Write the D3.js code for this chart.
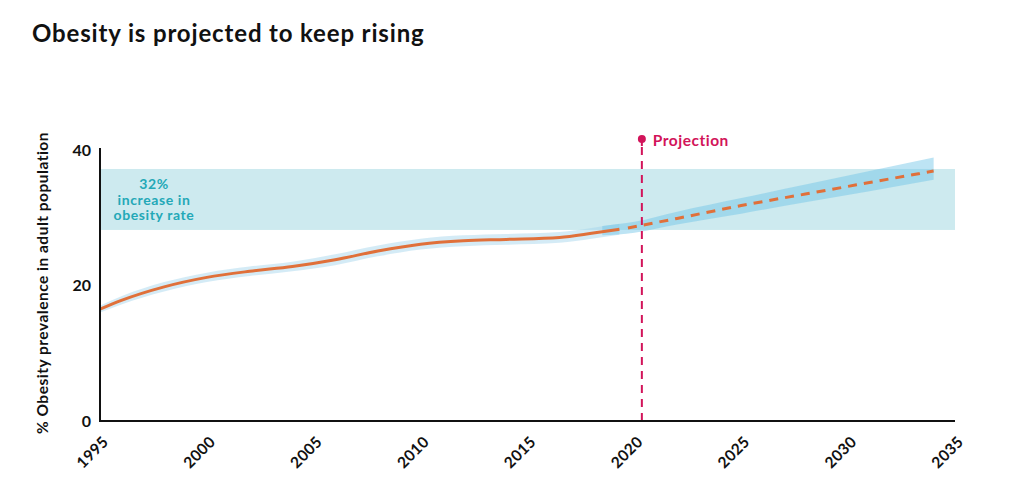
<!DOCTYPE html>
<html><head><meta charset="utf-8">
<script src="https://cdn.jsdelivr.net/npm/d3@7"></script>
<style>
html,body{margin:0;padding:0;background:#fff;}
svg{display:block;font-family:Lato,"Noto Sans",sans-serif;}
</style></head>
<body>
<svg id="chart" width="1024" height="495"></svg>
<script>
// ---- data ----
const histYears  = [1995, 1996, 1998, 2000, 2002, 2004, 2006, 2008, 2010, 2012, 2014, 2016.5, 2018, 2019.3];
const histValues = [16.5, 17.8, 19.8, 21.2, 22.1, 22.8, 23.8, 25.1, 26.1, 26.6, 26.8, 27.1, 27.7, 28.3];
const histLow    = [16.0, 17.2, 19.1, 20.5, 21.4, 22.1, 23.0, 24.3, 25.3, 25.8, 26.0, 26.3, 26.9, 27.5];
const histHigh   = [17.0, 18.4, 20.5, 21.9, 22.8, 23.5, 24.6, 25.9, 26.9, 27.4, 27.6, 27.9, 28.5, 29.1];
const projYears  = [2019.7, 2022, 2025, 2028, 2031, 2034];
const projValues = [28.5, 29.9, 31.8, 33.5, 35.2, 36.9];
const projBandYears = [2018.5, 2020, 2022, 2025, 2028, 2031, 2034];
const projLow    = [27.4, 27.8, 29.0, 30.6, 32.3, 33.9, 35.6];
const projHigh   = [28.8, 29.4, 30.9, 32.9, 34.9, 36.9, 38.9];
const increaseBand = [28.2, 37.2];
const projectionYear = 2020.35;
const xTicks = [1995, 2000, 2005, 2010, 2015, 2020, 2025, 2030, 2035];
const yTicks = [0, 20, 40];
const annotationLines = ["32%", "increase in", "obesity rate"];

// ---- chart ----
const svg = d3.select("#chart");
const x = d3.scaleLinear().domain([1995, 2035]).range([100, 955]);
const y = d3.scaleLinear().domain([0, 40]).range([421, 150]);

svg.append("text").attr("x", 32).attr("y", 42)
  .attr("font-size", 24).attr("font-weight", 700).attr("fill", "#111")
  .attr("letter-spacing", 0.85)
  .text("Obesity is projected to keep rising");

// increase band
svg.append("rect")
  .attr("x", x(1995)).attr("width", x(2035) - x(1995))
  .attr("y", y(increaseBand[1])).attr("height", y(increaseBand[0]) - y(increaseBand[1]))
  .attr("fill", "#cdeaef");

const tA = svg.append("text").attr("text-anchor", "middle")
  .attr("font-size", 14).attr("font-weight", 700).attr("fill", "#23a8b7")
  .attr("letter-spacing", 0.6);
annotationLines.forEach((s, i) => {
  tA.append("tspan").attr("x", 154).attr("y", 189 + i * 15.5).text(s);
});

// historical uncertainty band
const hb = histYears.map((d, i) => ({x: d, lo: histLow[i], hi: histHigh[i]}));
svg.append("path").datum(hb)
  .attr("fill", "#9fd3ea").attr("fill-opacity", 0.45)
  .attr("d", d3.area().curve(d3.curveMonotoneX)
    .x(d => x(d.x)).y0(d => y(d.lo)).y1(d => y(d.hi)));

// projection band
const pb = projBandYears.map((d, i) => ({x: d, lo: projLow[i], hi: projHigh[i]}));
svg.append("path").datum(pb)
  .attr("fill", "#6cc3e6").attr("fill-opacity", 0.45)
  .attr("d", d3.area().curve(d3.curveMonotoneX)
    .x(d => x(d.x)).y0(d => y(d.lo)).y1(d => y(d.hi)));

// historical line
const hl = histYears.map((d, i) => ({x: d, v: histValues[i]}));
svg.append("path").datum(hl)
  .attr("fill", "none").attr("stroke", "#e0703a").attr("stroke-width", 3)
  .attr("d", d3.line().curve(d3.curveMonotoneX).x(d => x(d.x)).y(d => y(d.v)));

// projected line
const pl = projYears.map((d, i) => ({x: d, v: projValues[i]}));
svg.append("path").datum(pl)
  .attr("fill", "none").attr("stroke", "#e0703a").attr("stroke-width", 3)
  .attr("stroke-dasharray", "9,7")
  .attr("d", d3.line().curve(d3.curveMonotoneX).x(d => x(d.x)).y(d => y(d.v)));

// projection marker
const px = x(projectionYear);
svg.append("line").attr("x1", px).attr("x2", px).attr("y1", 147).attr("y2", y(0))
  .attr("stroke", "#d2145a").attr("stroke-width", 2).attr("stroke-dasharray", "8,6");
svg.append("circle").attr("cx", px).attr("cy", 139).attr("r", 4).attr("fill", "#d2145a");
svg.append("line").attr("x1", px).attr("x2", px).attr("y1", 139).attr("y2", 146)
  .attr("stroke", "#d2145a").attr("stroke-width", 2);
svg.append("text").attr("x", px + 11).attr("y", 146)
  .attr("font-size", 15.5).attr("font-weight", 700).attr("fill", "#d2145a")
  .attr("letter-spacing", 0.5)
  .text("Projection");

// axes
const yAxis = svg.append("g").attr("transform", `translate(${x(1995)},0)`)
  .call(d3.axisLeft(y).tickValues(yTicks).tickSize(0).tickPadding(9));
yAxis.select(".domain").remove();
yAxis.selectAll("text").attr("font-size", 16).attr("font-weight", 700)
  .attr("fill", "#111").attr("font-family", "Lato,sans-serif");

const xAxis = svg.append("g").attr("transform", `translate(0,${y(0)})`)
  .call(d3.axisBottom(x).tickValues(xTicks).tickSize(0).tickFormat(d3.format("d")));
xAxis.select(".domain").remove();
xAxis.selectAll("text")
  .attr("font-size", 15.5).attr("font-weight", 700).attr("fill", "#111")
  .attr("font-family", "Lato,sans-serif")
  .attr("letter-spacing", 0.3)
  .attr("text-anchor", "end")
  .attr("transform", "translate(5,18) rotate(-45)")
  .attr("dy", "0.35em").attr("y", 0);

svg.append("line").attr("x1", x(1995)).attr("x2", x(1995)).attr("y1", 148).attr("y2", y(0) + 1)
  .attr("stroke", "#111").attr("stroke-width", 2);
svg.append("line").attr("x1", x(1995) - 1).attr("x2", x(2035)).attr("y1", y(0)).attr("y2", y(0))
  .attr("stroke", "#111").attr("stroke-width", 2);

svg.append("text")
  .attr("transform", `translate(48,${283}) rotate(-90)`)
  .attr("text-anchor", "middle")
  .attr("font-size", 15.5).attr("font-weight", 700).attr("fill", "#111")
  .attr("letter-spacing", 0.5)
  .text("% Obesity prevalence in adult population");
</script>
</body></html>
